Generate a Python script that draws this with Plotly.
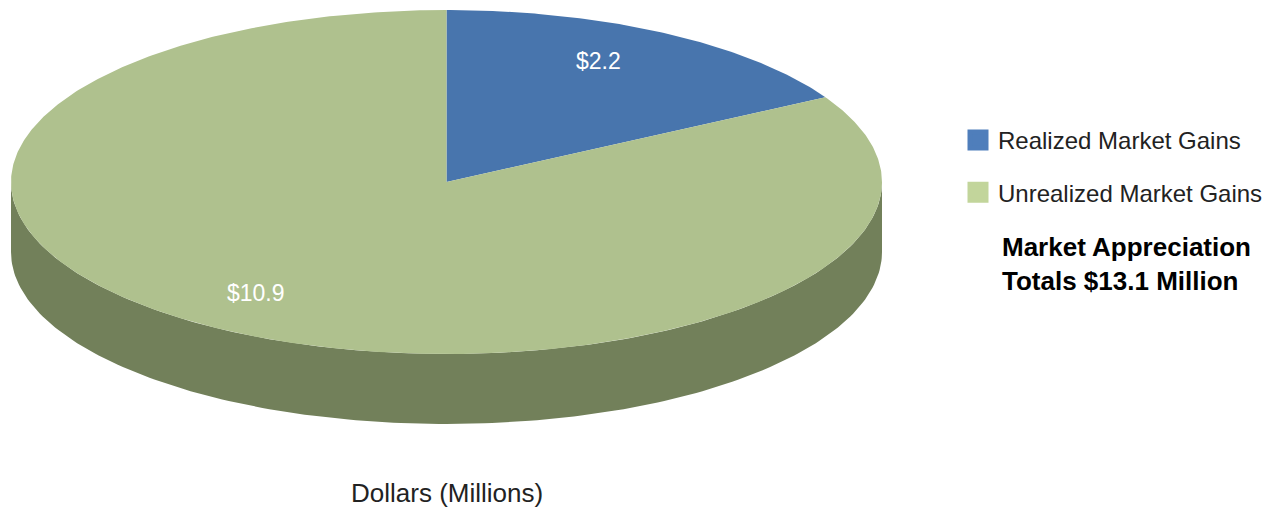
import numpy as np
import plotly.graph_objects as go

# ---- data ----
labels = ["Realized Market Gains", "Unrealized Market Gains"]
values = [2.2, 10.9]
value_text = ["$2.2", "$10.9"]
total_text = "<b>Market Appreciation<br>Totals $13.1 Million</b>"
axis_title = "Dollars (Millions)"

# ---- style / geometry (page pixel units) ----
PAGE_W, PAGE_H, OFF = 1277, 507, 8          # browser body margin offset
W, H = PAGE_W - OFF, PAGE_H - OFF
CX, CY, RX, RY, DEPTH = 446.5, 182.0, 435.5, 172.0, 70.0
top_colors = ["#4875AD", "#AFC18E"]
legend_colors = ["#4F7EBB", "#C2D59B"]
side_color = "#72805A"
FONT = "Liberation Sans"


def ell(theta_deg, dy=0.0, r=1.0):
    t = np.radians(theta_deg)
    return CX + r * RX * np.sin(t), CY - r * RY * np.cos(t) + dy


def px(x):
    return (x - OFF) / W


def py(y):
    return 1 - (y - OFF) / H


fig = go.Figure()

# side wall (visible front half)
th = np.linspace(90, 270, 181)
xt, yt = ell(th)
xb, yb = ell(th[::-1], DEPTH)
fig.add_trace(go.Scatter(x=np.concatenate([xt, xb]), y=np.concatenate([yt, yb]),
                         fill="toself", fillcolor=side_color, mode="lines",
                         line=dict(width=0, color=side_color), showlegend=False,
                         hoverinfo="skip"))

total = sum(values)
start = 0.0
mids = []
for lab, v, col in zip(labels, values, top_colors):
    span = 360.0 * v / total
    th = np.linspace(start, start + span, max(int(span) * 2, 10))
    xs, ys = ell(th)
    fig.add_trace(go.Scatter(x=np.concatenate([[CX], xs, [CX]]),
                             y=np.concatenate([[CY], ys, [CY]]),
                             fill="toself", fillcolor=col, mode="lines",
                             line=dict(width=0, color=col), name=lab,
                             showlegend=False, hoverinfo="name"))
    mids.append(start + span / 2)
    start += span

# value labels
for m, t in zip(mids, value_text):
    lx, ly = ell(m, r=0.78)
    fig.add_annotation(x=lx, y=ly, xref="x", yref="y", text=t, showarrow=False,
                       xshift=-19, yshift=5,
                       font=dict(family=FONT, size=23, color="white"))

# legend entries
for i, (lab, col) in enumerate(zip(labels, legend_colors)):
    fig.add_trace(go.Scatter(x=[None], y=[None], mode="markers", name=lab,
                             legendgroup=f"g{i}",
                             marker=dict(symbol="square", size=16, color=col,
                                         line=dict(width=5, color=col))))

fig.add_annotation(x=px(1000), y=py(230), xref="paper", yref="paper",
                   xanchor="left", yanchor="top", align="left", showarrow=False,
                   text=total_text, font=dict(family=FONT, size=26, color="black"))

fig.add_annotation(x=px(CX), y=py(493), xref="paper", yref="paper",
                   xanchor="center", yanchor="middle", showarrow=False,
                   text=axis_title, font=dict(family=FONT, size=26, color="#222222"))

fig.update_layout(
    width=W, height=H, margin=dict(l=0, r=0, t=0, b=0),
    paper_bgcolor="white", plot_bgcolor="white",
    xaxis=dict(range=[OFF, PAGE_W], visible=False, fixedrange=True),
    yaxis=dict(range=[PAGE_H, OFF], visible=False, fixedrange=True),
    legend=dict(x=px(958), y=py(118), xanchor="left", yanchor="top",
                font=dict(family=FONT, size=24, color="#222222"),
                tracegroupgap=18, itemsizing="trace", bgcolor="rgba(0,0,0,0)"),
    showlegend=True,
)

fig.write_html("out.html")
